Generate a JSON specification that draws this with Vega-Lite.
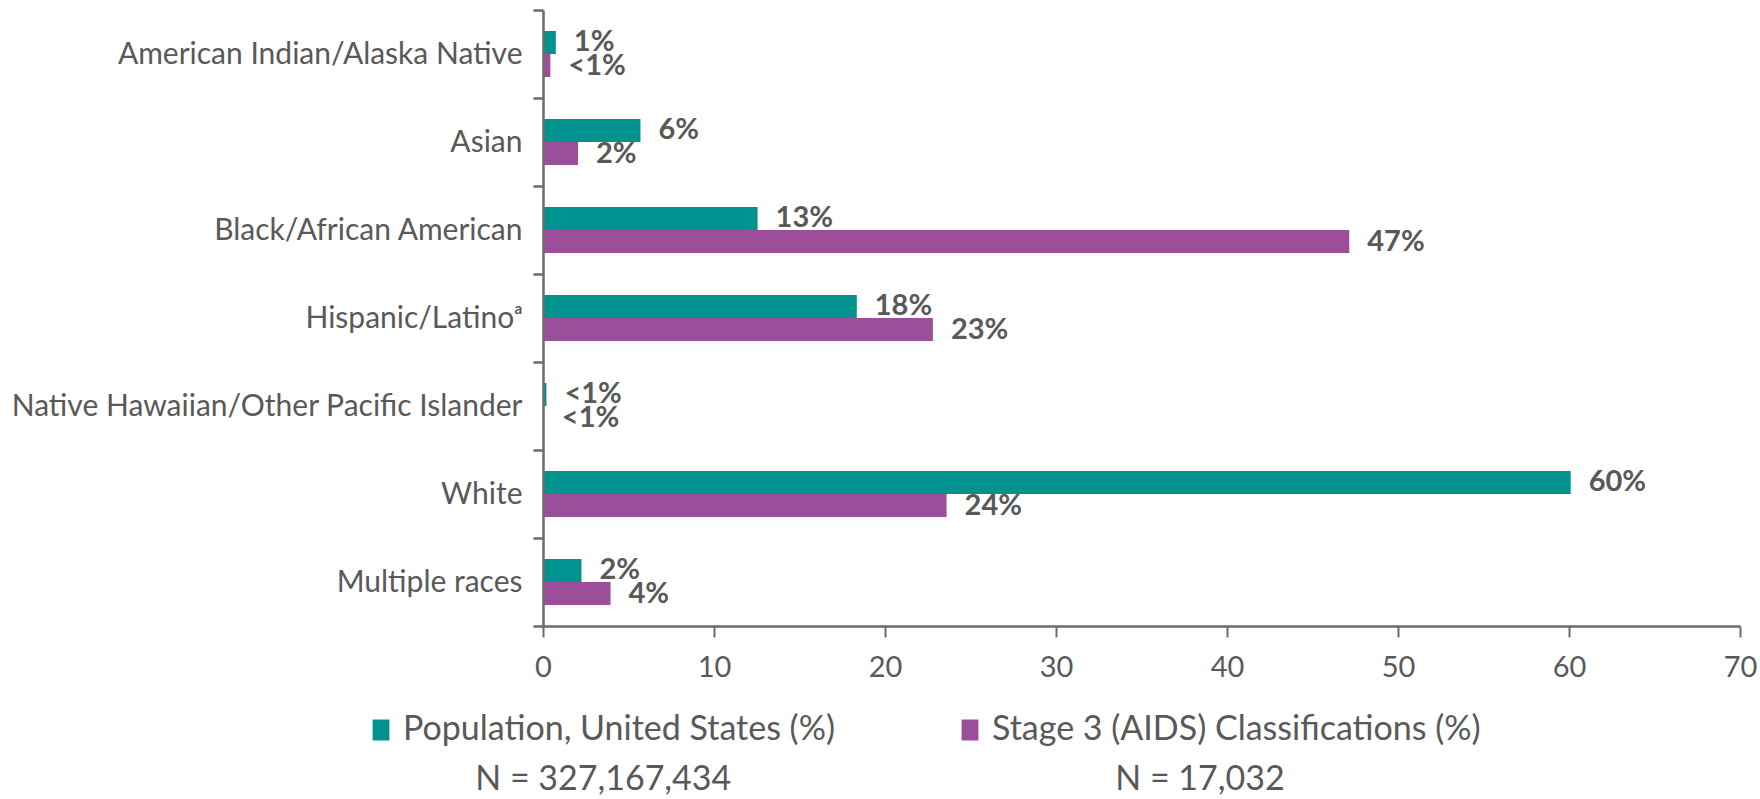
{
  "$schema": "https://vega.github.io/schema/vega-lite/v6.json",
  "autosize": {"type": "none"},
  "width": 1197,
  "height": 616,
  "padding": {"left": 543, "top": 10, "right": 20, "bottom": 173},
  "background": "white",
  "config": {"view": {"stroke": null}, "font": "Lato"},
  "data": {
    "values": [
      {"race": "American Indian/Alaska Native", "series": "Population, United States (%)", "value": 0.75, "label": "1%"},
      {"race": "American Indian/Alaska Native", "series": "Stage 3 (AIDS) Classifications (%)", "value": 0.43, "label": "<1%"},
      {"race": "Asian", "series": "Population, United States (%)", "value": 5.7, "label": "6%"},
      {"race": "Asian", "series": "Stage 3 (AIDS) Classifications (%)", "value": 2.05, "label": "2%"},
      {"race": "Black/African American", "series": "Population, United States (%)", "value": 12.55, "label": "13%"},
      {"race": "Black/African American", "series": "Stage 3 (AIDS) Classifications (%)", "value": 47.15, "label": "47%"},
      {"race": "Hispanic/Latinoᵃ", "series": "Population, United States (%)", "value": 18.35, "label": "18%"},
      {"race": "Hispanic/Latinoᵃ", "series": "Stage 3 (AIDS) Classifications (%)", "value": 22.8, "label": "23%"},
      {"race": "Native Hawaiian/Other Pacific Islander", "series": "Population, United States (%)", "value": 0.2, "label": "<1%"},
      {"race": "Native Hawaiian/Other Pacific Islander", "series": "Stage 3 (AIDS) Classifications (%)", "value": 0.05, "label": "<1%"},
      {"race": "White", "series": "Population, United States (%)", "value": 60.1, "label": "60%"},
      {"race": "White", "series": "Stage 3 (AIDS) Classifications (%)", "value": 23.6, "label": "24%"},
      {"race": "Multiple races", "series": "Population, United States (%)", "value": 2.25, "label": "2%"},
      {"race": "Multiple races", "series": "Stage 3 (AIDS) Classifications (%)", "value": 3.95, "label": "4%"}
    ]
  },
  "encoding": {
    "y": {
      "field": "race",
      "type": "nominal",
      "sort": null,
      "scale": {"paddingInner": 0, "paddingOuter": 0},
      "axis": {
        "title": null,
        "tickBand": "extent",
        "zindex": 1,
        "domainColor": "#6b6b6b",
        "domainWidth": 2.5,
        "tickColor": "#6b6b6b",
        "tickWidth": 2.5,
        "tickSize": 10,
        "labelPadding": 11,
        "labelFont": "Lato",
        "labelFontSize": 30,
        "labelColor": "#595959",
        "labelLimit": 700
      }
    },
    "yOffset": {
      "field": "series",
      "type": "nominal",
      "sort": ["Population, United States (%)", "Stage 3 (AIDS) Classifications (%)"],
      "scale": {"paddingInner": 0, "paddingOuter": 0.913}
    },
    "x": {
      "field": "value",
      "type": "quantitative",
      "scale": {"domain": [0, 70], "nice": false},
      "axis": {
        "title": null,
        "values": [0, 10, 20, 30, 40, 50, 60, 70],
        "grid": false,
        "zindex": 1,
        "domainColor": "#6b6b6b",
        "domainWidth": 2.5,
        "tickColor": "#6b6b6b",
        "tickWidth": 2,
        "tickSize": 11,
        "labelPadding": 16,
        "labelFont": "Lato",
        "labelFontSize": 29,
        "labelColor": "#595959",
        "labelFlush": false
      }
    }
  },
  "layer": [
    {
      "transform": [{"filter": "datum.series == 'Population, United States (%)'"}],
      "mark": {"type": "bar"},
      "encoding": {
        "color": {
          "field": "series",
          "type": "nominal",
          "scale": {"range": ["#00928F"]},
          "legend": {
            "title": null,
            "orient": "none",
            "legendX": -179,
            "legendY": 703,
            "symbolType": "M-0.8,-1H0.8V1H-0.8Z",
            "symbolSize": 441,
            "symbolStrokeWidth": 0,
            "labelOffset": 5,
            "labelFont": "Lato",
            "labelFontSize": 34,
            "labelColor": "#595959",
            "labelLimit": 800,
            "labelExpr": "[datum.label, '\u200b\u2002\u2002\u2002\u2002\u2009N = 327,167,434']",
            "encode": {"labels": {"update": {"lineHeight": {"value": 50}}}}
          }
        }
      }
    },
    {
      "transform": [{"filter": "datum.series == 'Stage 3 (AIDS) Classifications (%)'"}],
      "mark": {"type": "bar"},
      "encoding": {
        "color": {
          "field": "series",
          "type": "nominal",
          "scale": {"range": ["#9B4F9B"]},
          "legend": {
            "title": null,
            "orient": "none",
            "legendX": 410,
            "legendY": 703,
            "symbolType": "M-0.8,-1H0.8V1H-0.8Z",
            "symbolSize": 441,
            "symbolStrokeWidth": 0,
            "labelOffset": 5,
            "labelFont": "Lato",
            "labelFontSize": 34,
            "labelColor": "#595959",
            "labelLimit": 800,
            "labelExpr": "[datum.label, '\u200b\u2002\u2002\u2002\u2002\u2002\u2002\u2002\u2009N = 17,032']",
            "encode": {"labels": {"update": {"lineHeight": {"value": 50}}}}
          }
        }
      }
    },
    {
      "mark": {"type": "text", "align": "left", "baseline": "middle", "dx": 18, "font": "Lato", "fontSize": 29, "fontWeight": "bold", "color": "#595959"},
      "encoding": {
        "text": {"field": "label", "type": "nominal"}
      }
    }
  ],
  "resolve": {"scale": {"color": "independent"}, "legend": {"color": "independent"}}
}
